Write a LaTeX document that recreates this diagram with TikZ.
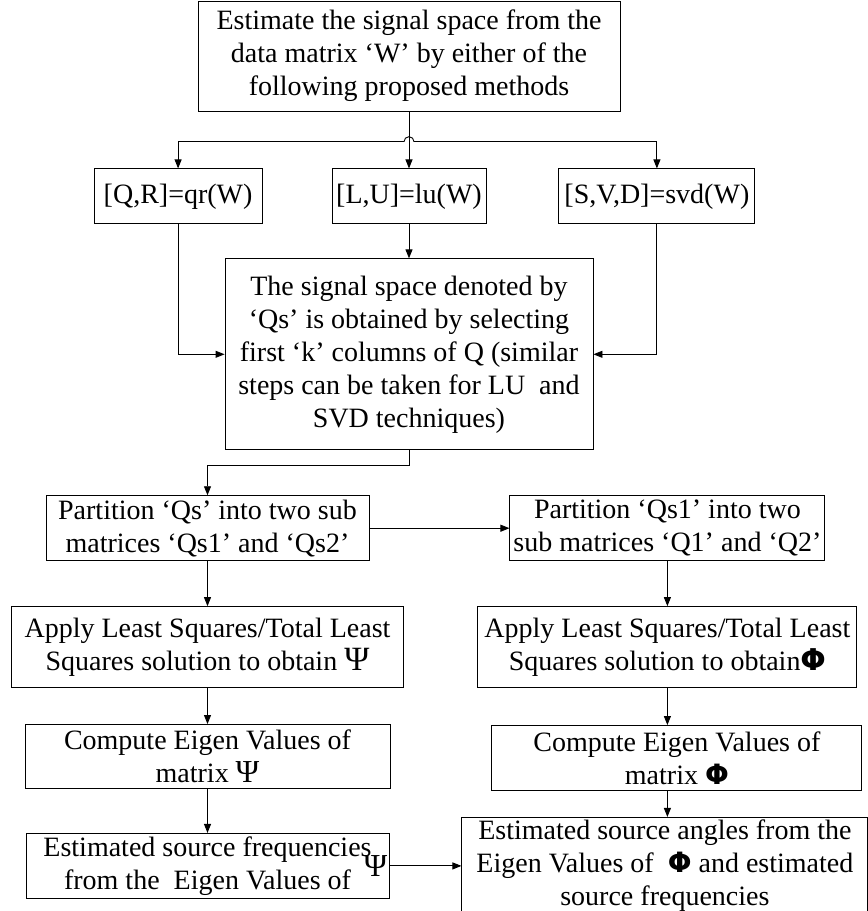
\documentclass[tikz,border=0pt]{standalone}
\usepackage{fontspec}
\setmainfont{Liberation Serif}
\newfontfamily\symfam{DejaVu Sans}
\usetikzlibrary{arrows.meta, positioning, calc}

\begin{document}
\begin{tikzpicture}[
    x=1pt, y=1pt,
    node distance=45pt and 70pt,
    box/.style={rectangle, draw=black, line width=0.9pt, align=center, inner sep=1pt, minimum height=65pt, font=\fontsize{28}{33}\selectfont},
    arrow/.style={-{Triangle[length=9pt, width=7pt]}, line width=0.9pt, draw=black}
]
    \useasboundingbox (0,0) rectangle (868,-911);

    \node (top) [box, minimum width=422pt, minimum height=110pt] at (409,-56) {Estimate the signal space from the\\data matrix ‘W’ by either of the\\following proposed methods};

    \node (lu) [box, below=57pt of top, minimum width=154pt, minimum height=55pt] {[L,U]=lu(W)};
    \node (qr) [box, left=69pt of lu, minimum width=168pt, minimum height=55pt] {[Q,R]=qr(W)};
    \node (svd) [box, right=72pt of lu, minimum width=196pt, minimum height=55pt] {[S,V,D]=svd(W)};

    \node (mid) [box, below=34pt of lu, minimum width=368pt, minimum height=191pt] {The signal space denoted by\\‘Qs’ is obtained by selecting\\first ‘k’ columns of Q (similar\\steps can be taken for LU~ and\\SVD techniques)};

    \node (part1) [box, below=45pt of mid, xshift=-201.5pt, minimum width=323pt] {Partition ‘Qs’ into two sub\\matrices ‘Qs1’ and ‘Qs2’};
    \node (part2) [box, right=140pt of part1, minimum width=315pt] {Partition ‘Qs1’ into two\\sub matrices ‘Q1’ and ‘Q2’};

    \node (ls1) [box, below=45pt of part1, minimum width=392pt, minimum height=81pt] {Apply Least Squares/Total Least\\Squares solution to obtain {\fontsize{34}{33}\selectfont Ψ}};
    \node (ls2) [box, below=45pt of part2, minimum width=379pt, minimum height=81pt] {Apply Least Squares/Total Least\\Squares solution to obtain{\symfam\bfseries\fontsize{30}{33}\selectfont Φ}};

    \node (ev1) [box, below=36pt of ls1, minimum width=365pt, minimum height=64pt] {Compute Eigen Values of\\matrix {\fontsize{32}{33}\selectfont Ψ}};
    \node (ev2) [box, below=37pt of ls2, xshift=9.5pt, minimum width=370pt] {Compute Eigen Values of\\matrix {\symfam\bfseries\fontsize{28}{33}\selectfont Φ}};

    \node (est1) [box, below=44pt of ev1, minimum width=363pt,
        label={[anchor=east, inner sep=2pt, font=\fontsize{32}{33}\selectfont]east:Ψ}] {Estimated source frequencies\\from the~ Eigen Values of};
    \node (est2) [box, right=72pt of est1, minimum width=406pt, minimum height=97pt] {Estimated source angles from the\\Eigen Values of~ {\symfam\bfseries\fontsize{28}{33}\selectfont Φ} and estimated\\source frequencies};

    % branch with a hop over the middle line
    \coordinate (br) at ($(top.south)!0.53!(lu.north)$);
    \coordinate (hopL) at ($(br)+(-5,0)$);
    \coordinate (hopR) at ($(br)+(5,0)$);

    \draw [arrow] (top) -- (lu);
    \draw [arrow] (hopL) -| (qr);
    \draw [arrow] (hopR) -| (svd);
    \draw [line width=0.9pt] (hopL) arc[start angle=180, end angle=0, radius=5pt];

    \draw [arrow] (qr) |- (mid);
    \draw [arrow] (svd) |- (mid);
    \draw [arrow] (lu) -- (mid);

    \draw [arrow] (mid) |- ($(mid.south)!0.33!(part1.north)$) -| (part1);
    \draw [arrow] (part1) -- (part2);
    \draw [arrow] (part1) -- (ls1);
    \draw [arrow] (part2) -- (ls2);
    \draw [arrow] (ls1) -- (ev1);
    \draw [arrow] (ls2) -- (ls2 |- ev2.north);
    \draw [arrow] (ev1) -- (est1);
    \draw [arrow] (ls2 |- ev2.south) -- (ls2 |- est2.north);
    \draw [arrow] (est1) -- (est2);
\end{tikzpicture}
\end{document}
